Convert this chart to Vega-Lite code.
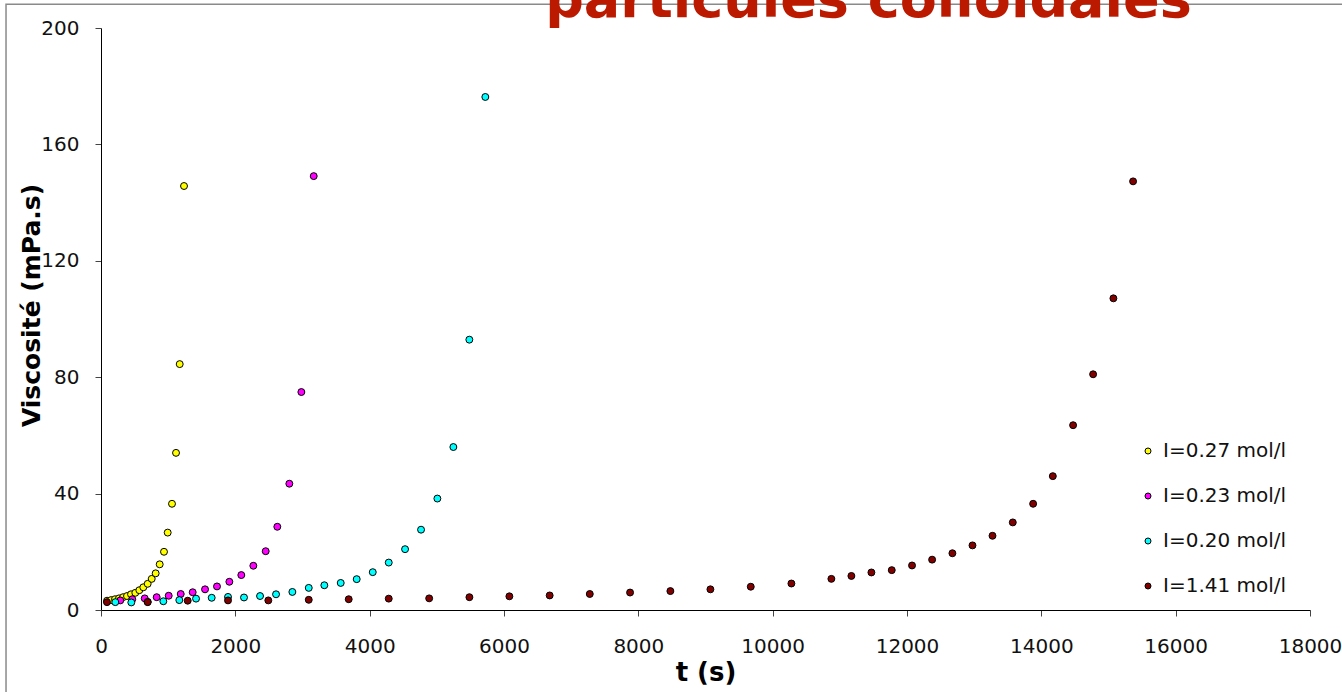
{
  "$schema": "https://vega.github.io/schema/vega-lite/v6.json",
  "width": 1209,
  "height": 582,
  "autosize": {"type": "none"},
  "padding": {"left": 101, "top": 28, "right": 32, "bottom": 82},
  "background": "white",
  "title": {
    "text": "particules colloïdales",
    "font": "DejaVu Sans",
    "fontWeight": "bold",
    "fontSize": 54,
    "color": "#BB1A00",
    "frame": "group",
    "anchor": "middle",
    "baseline": "alphabetic",
    "offset": 0,
    "dy": 68,
    "dx": 163
  },
  "config": {
    "view": {"stroke": null},
    "font": "DejaVu Sans",
    "axis": {
      "grid": false,
      "labelFont": "DejaVu Sans",
      "labelFontSize": 20,
      "labelColor": "#111",
      "titleFont": "DejaVu Sans",
      "titleFontWeight": "bold",
      "titleColor": "#000",
      "domainColor": "#000",
      "tickColor": "#444",
      "tickSize": 6
    }
  },
  "datasets": {
    "pts": [
      {"serie": "I=0.27 mol/l", "t": 90, "v": 3.2},
      {"serie": "I=0.27 mol/l", "t": 149, "v": 3.4},
      {"serie": "I=0.27 mol/l", "t": 208, "v": 3.7},
      {"serie": "I=0.27 mol/l", "t": 268, "v": 4.0},
      {"serie": "I=0.27 mol/l", "t": 328, "v": 4.4},
      {"serie": "I=0.27 mol/l", "t": 387, "v": 4.8},
      {"serie": "I=0.27 mol/l", "t": 447, "v": 5.4},
      {"serie": "I=0.27 mol/l", "t": 511, "v": 5.9},
      {"serie": "I=0.27 mol/l", "t": 571, "v": 6.8},
      {"serie": "I=0.27 mol/l", "t": 630, "v": 7.8},
      {"serie": "I=0.27 mol/l", "t": 695, "v": 9.0},
      {"serie": "I=0.27 mol/l", "t": 755, "v": 10.7},
      {"serie": "I=0.27 mol/l", "t": 814, "v": 12.6},
      {"serie": "I=0.27 mol/l", "t": 874, "v": 15.7},
      {"serie": "I=0.27 mol/l", "t": 938, "v": 20.0},
      {"serie": "I=0.27 mol/l", "t": 993, "v": 26.6},
      {"serie": "I=0.27 mol/l", "t": 1057, "v": 36.5},
      {"serie": "I=0.27 mol/l", "t": 1117, "v": 54.0},
      {"serie": "I=0.27 mol/l", "t": 1172, "v": 84.5},
      {"serie": "I=0.27 mol/l", "t": 1236, "v": 145.7},
      {"serie": "I=0.23 mol/l", "t": 287, "v": 3.3},
      {"serie": "I=0.23 mol/l", "t": 466, "v": 3.7},
      {"serie": "I=0.23 mol/l", "t": 651, "v": 4.0},
      {"serie": "I=0.23 mol/l", "t": 829, "v": 4.4},
      {"serie": "I=0.23 mol/l", "t": 1008, "v": 4.9},
      {"serie": "I=0.23 mol/l", "t": 1187, "v": 5.5},
      {"serie": "I=0.23 mol/l", "t": 1365, "v": 6.1},
      {"serie": "I=0.23 mol/l", "t": 1549, "v": 7.1},
      {"serie": "I=0.23 mol/l", "t": 1727, "v": 8.1},
      {"serie": "I=0.23 mol/l", "t": 1911, "v": 9.7},
      {"serie": "I=0.23 mol/l", "t": 2089, "v": 12.0},
      {"serie": "I=0.23 mol/l", "t": 2268, "v": 15.2},
      {"serie": "I=0.23 mol/l", "t": 2452, "v": 20.2},
      {"serie": "I=0.23 mol/l", "t": 2625, "v": 28.6},
      {"serie": "I=0.23 mol/l", "t": 2804, "v": 43.4},
      {"serie": "I=0.23 mol/l", "t": 2983, "v": 74.9},
      {"serie": "I=0.23 mol/l", "t": 3167, "v": 149.1},
      {"serie": "I=0.20 mol/l", "t": 213, "v": 2.7},
      {"serie": "I=0.20 mol/l", "t": 451, "v": 2.6},
      {"serie": "I=0.20 mol/l", "t": 695, "v": 2.8},
      {"serie": "I=0.20 mol/l", "t": 928, "v": 3.0},
      {"serie": "I=0.20 mol/l", "t": 1166, "v": 3.4},
      {"serie": "I=0.20 mol/l", "t": 1415, "v": 3.9},
      {"serie": "I=0.20 mol/l", "t": 1648, "v": 4.2},
      {"serie": "I=0.20 mol/l", "t": 1891, "v": 4.5},
      {"serie": "I=0.20 mol/l", "t": 2129, "v": 4.3},
      {"serie": "I=0.20 mol/l", "t": 2368, "v": 4.8},
      {"serie": "I=0.20 mol/l", "t": 2606, "v": 5.4},
      {"serie": "I=0.20 mol/l", "t": 2849, "v": 6.2},
      {"serie": "I=0.20 mol/l", "t": 3093, "v": 7.6},
      {"serie": "I=0.20 mol/l", "t": 3325, "v": 8.5},
      {"serie": "I=0.20 mol/l", "t": 3569, "v": 9.3},
      {"serie": "I=0.20 mol/l", "t": 3807, "v": 10.6},
      {"serie": "I=0.20 mol/l", "t": 4046, "v": 13.0},
      {"serie": "I=0.20 mol/l", "t": 4284, "v": 16.3},
      {"serie": "I=0.20 mol/l", "t": 4527, "v": 20.9},
      {"serie": "I=0.20 mol/l", "t": 4765, "v": 27.6},
      {"serie": "I=0.20 mol/l", "t": 5008, "v": 38.3},
      {"serie": "I=0.20 mol/l", "t": 5246, "v": 56.0},
      {"serie": "I=0.20 mol/l", "t": 5484, "v": 92.9},
      {"serie": "I=0.20 mol/l", "t": 5722, "v": 176.3},
      {"serie": "I=1.41 mol/l", "t": 89, "v": 2.7},
      {"serie": "I=1.41 mol/l", "t": 695, "v": 2.7},
      {"serie": "I=1.41 mol/l", "t": 1291, "v": 3.2},
      {"serie": "I=1.41 mol/l", "t": 1891, "v": 3.3},
      {"serie": "I=1.41 mol/l", "t": 2491, "v": 3.3},
      {"serie": "I=1.41 mol/l", "t": 3093, "v": 3.5},
      {"serie": "I=1.41 mol/l", "t": 3688, "v": 3.7},
      {"serie": "I=1.41 mol/l", "t": 4284, "v": 3.9},
      {"serie": "I=1.41 mol/l", "t": 4886, "v": 4.0},
      {"serie": "I=1.41 mol/l", "t": 5485, "v": 4.4},
      {"serie": "I=1.41 mol/l", "t": 6080, "v": 4.7},
      {"serie": "I=1.41 mol/l", "t": 6680, "v": 5.0},
      {"serie": "I=1.41 mol/l", "t": 7277, "v": 5.5},
      {"serie": "I=1.41 mol/l", "t": 7877, "v": 6.0},
      {"serie": "I=1.41 mol/l", "t": 8477, "v": 6.5},
      {"serie": "I=1.41 mol/l", "t": 9073, "v": 7.1},
      {"serie": "I=1.41 mol/l", "t": 9674, "v": 8.0},
      {"serie": "I=1.41 mol/l", "t": 10279, "v": 9.1},
      {"serie": "I=1.41 mol/l", "t": 10874, "v": 10.7},
      {"serie": "I=1.41 mol/l", "t": 11172, "v": 11.7},
      {"serie": "I=1.41 mol/l", "t": 11470, "v": 12.9},
      {"serie": "I=1.41 mol/l", "t": 11773, "v": 13.7},
      {"serie": "I=1.41 mol/l", "t": 12075, "v": 15.3},
      {"serie": "I=1.41 mol/l", "t": 12374, "v": 17.3},
      {"serie": "I=1.41 mol/l", "t": 12676, "v": 19.5},
      {"serie": "I=1.41 mol/l", "t": 12975, "v": 22.2},
      {"serie": "I=1.41 mol/l", "t": 13273, "v": 25.5},
      {"serie": "I=1.41 mol/l", "t": 13575, "v": 30.1},
      {"serie": "I=1.41 mol/l", "t": 13878, "v": 36.5},
      {"serie": "I=1.41 mol/l", "t": 14171, "v": 46.0},
      {"serie": "I=1.41 mol/l", "t": 14473, "v": 63.5},
      {"serie": "I=1.41 mol/l", "t": 14771, "v": 81.0},
      {"serie": "I=1.41 mol/l", "t": 15073, "v": 107.1},
      {"serie": "I=1.41 mol/l", "t": 15366, "v": 147.3}
    ]
  },
  "layer": [
    {
      "data": {"values": [{}]},
      "mark": {"type": "rect", "fill": null, "fillOpacity": 0, "stroke": "#8a8a8a", "strokeWidth": 1.5, "clip": false},
      "encoding": {
        "x": {"datum": -1414, "type": "quantitative"},
        "x2": {"datum": 21000},
        "y": {"datum": 208.2, "type": "quantitative"},
        "y2": {"datum": -40}
      }
    },
    {
      "data": {"name": "pts"},
      "mark": {"type": "point", "filled": true, "shape": "circle", "size": 48, "stroke": "#000", "strokeWidth": 1, "opacity": 1},
      "encoding": {
        "x": {
          "field": "t",
          "type": "quantitative",
          "scale": {"domain": [0, 18000], "nice": false, "zero": false},
          "axis": {"title": "t (s)", "titleFontSize": 26, "values": [0, 2000, 4000, 6000, 8000, 10000, 12000, 14000, 16000, 18000], "format": "d", "labelPadding": 20, "titlePadding": 3, "labelFlush": false}
        },
        "y": {
          "field": "v",
          "type": "quantitative",
          "scale": {"domain": [0, 200], "nice": false},
          "axis": {"title": "Viscosité (mPa.s)", "titleFontSize": 25, "titleY": 277, "values": [0, 40, 80, 120, 160, 200], "labelPadding": 16, "titlePadding": -4}
        },
        "fill": {
          "field": "serie",
          "type": "nominal",
          "sort": null,
          "scale": {
            "domain": ["I=0.27 mol/l", "I=0.23 mol/l", "I=0.20 mol/l", "I=1.41 mol/l"],
            "range": ["#FFFF00", "#FF00FF", "#00FFFF", "#800000"]
          },
          "legend": {
            "title": null,
            "orient": "none",
            "legendX": 1037,
            "legendY": 413,
            "labelFont": "DejaVu Sans",
            "labelFontSize": 20,
            "labelColor": "#111",
            "symbolType": "circle",
            "symbolSize": 36,
            "symbolStrokeColor": "#000",
            "symbolStrokeWidth": 1,
            "rowPadding": 25,
            "labelOffset": 5
          }
        }
      }
    }
  ]
}
